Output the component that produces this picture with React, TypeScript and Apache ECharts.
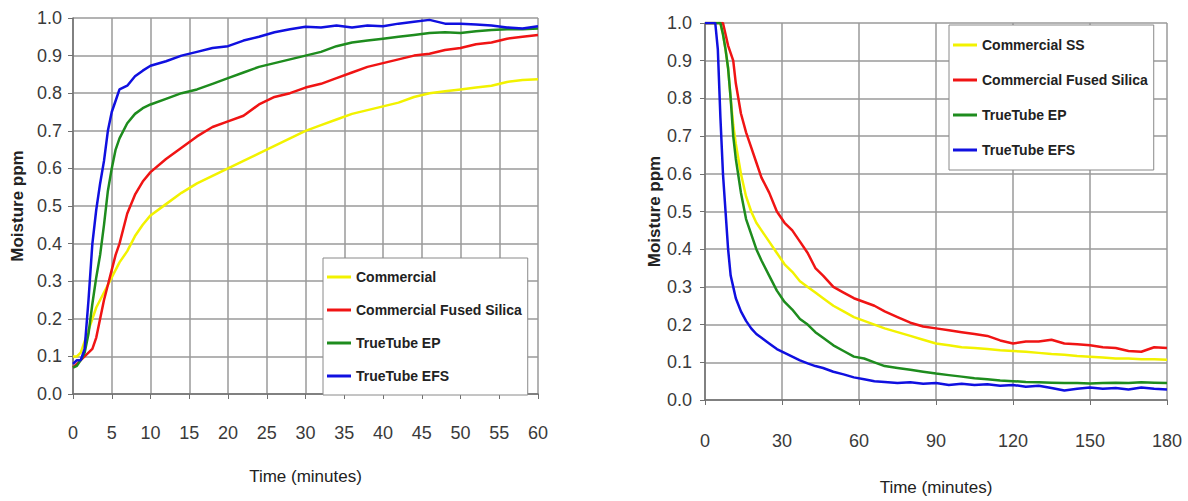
import React, { useEffect, useRef } from "react";
import * as echarts from "echarts";

// ---------- Left chart (adsorption, 0-60 min) ----------
const leftTime = [0, 0.5, 1, 1.5, 2, 2.5, 3, 3.5, 4, 4.5, 5, 5.5, 6, 7, 8, 9, 10, 12, 14, 16, 18, 20, 22, 24, 26, 28, 30, 32, 34, 36, 38, 40, 42, 44, 46, 48, 50, 52, 54, 56, 58, 60];
const leftCommercial = [0.1, 0.1, 0.11, 0.14, 0.17, 0.2, 0.23, 0.25, 0.27, 0.29, 0.31, 0.33, 0.35, 0.38, 0.42, 0.45, 0.475, 0.505, 0.535, 0.56, 0.58, 0.6, 0.62, 0.64, 0.66, 0.68, 0.7, 0.715, 0.73, 0.745, 0.755, 0.765, 0.775, 0.79, 0.8, 0.805, 0.81, 0.815, 0.82, 0.83, 0.835, 0.837];
const leftFusedSilica = [0.07, 0.08, 0.09, 0.1, 0.11, 0.12, 0.15, 0.2, 0.25, 0.29, 0.33, 0.37, 0.4, 0.48, 0.53, 0.565, 0.59, 0.625, 0.655, 0.685, 0.71, 0.725, 0.74, 0.77, 0.79, 0.8, 0.815, 0.825, 0.84, 0.855, 0.87, 0.88, 0.89, 0.9, 0.905, 0.915, 0.92, 0.93, 0.935, 0.945, 0.95, 0.955];
const leftTrueTubeEP = [0.07, 0.075, 0.09, 0.11, 0.16, 0.24, 0.31, 0.37, 0.45, 0.54, 0.6, 0.65, 0.68, 0.72, 0.745, 0.76, 0.77, 0.785, 0.8, 0.81, 0.825, 0.84, 0.855, 0.87, 0.88, 0.89, 0.9, 0.91, 0.925, 0.935, 0.94, 0.945, 0.95, 0.955, 0.96, 0.962, 0.96, 0.965, 0.968, 0.97, 0.97, 0.972];
const leftTrueTubeEFS = [0.08, 0.09, 0.09, 0.12, 0.25, 0.4, 0.49, 0.56, 0.62, 0.7, 0.75, 0.78, 0.81, 0.82, 0.845, 0.86, 0.873, 0.885, 0.9, 0.91, 0.92, 0.925, 0.94, 0.95, 0.962, 0.97, 0.977, 0.975, 0.98, 0.975, 0.98, 0.978, 0.985, 0.99, 0.995, 0.985, 0.985, 0.983, 0.98, 0.975, 0.972, 0.978];
const leftNames = ["Commercial", "Commercial Fused Silica", "TrueTube EP", "TrueTube EFS"];

// ---------- Right chart (dry-down, 0-180 min) ----------
const rightTime = [0, 2, 4, 5, 6, 7, 8, 9, 10, 11, 12, 14, 16, 18, 20, 22, 25, 28, 31, 34, 37, 40, 43, 46, 50, 54, 58, 62, 66, 70, 75, 80, 85, 90, 95, 100, 105, 110, 115, 120, 125, 130, 135, 140, 145, 150, 155, 160, 165, 170, 175, 180];
const rightCommercialSS = [1, 1, 1, 1, 1, 0.97, 0.93, 0.88, 0.8, 0.73, 0.68, 0.6, 0.54, 0.5, 0.47, 0.45, 0.42, 0.39, 0.36, 0.34, 0.315, 0.3, 0.285, 0.27, 0.25, 0.235, 0.22, 0.21, 0.2, 0.19, 0.18, 0.17, 0.16, 0.15, 0.145, 0.14, 0.138, 0.135, 0.132, 0.13, 0.128, 0.125, 0.122, 0.12, 0.117, 0.115, 0.113, 0.11, 0.11, 0.108, 0.108, 0.107];
const rightFusedSilica = [1, 1, 1, 1, 1, 1, 0.97, 0.94, 0.92, 0.9, 0.84, 0.76, 0.71, 0.67, 0.63, 0.59, 0.55, 0.5, 0.47, 0.45, 0.42, 0.39, 0.35, 0.33, 0.3, 0.285, 0.27, 0.26, 0.25, 0.235, 0.22, 0.205, 0.195, 0.19, 0.185, 0.18, 0.175, 0.17, 0.158, 0.15, 0.155, 0.155, 0.16, 0.15, 0.148, 0.145, 0.14, 0.138, 0.13, 0.128, 0.14, 0.138];
const rightTrueTubeEP = [1, 1, 1, 1, 1, 0.97, 0.93, 0.88, 0.8, 0.7, 0.64, 0.55, 0.48, 0.44, 0.4, 0.37, 0.33, 0.29, 0.26, 0.24, 0.215, 0.2, 0.18, 0.165, 0.145, 0.13, 0.115, 0.11, 0.1, 0.09, 0.085, 0.08, 0.075, 0.07, 0.066, 0.062, 0.058, 0.055, 0.052, 0.05, 0.048, 0.047, 0.046, 0.045, 0.045, 0.044, 0.045, 0.046, 0.045, 0.047, 0.046, 0.045];
const rightTrueTubeEFS = [1, 1, 1, 0.93, 0.75, 0.6, 0.5, 0.4, 0.33, 0.3, 0.27, 0.235, 0.21, 0.19, 0.175, 0.165, 0.15, 0.135, 0.125, 0.115, 0.105, 0.097, 0.09, 0.085, 0.075, 0.068, 0.06, 0.055, 0.05, 0.048, 0.045, 0.047, 0.043, 0.045, 0.04, 0.043, 0.04, 0.042, 0.038, 0.04, 0.035, 0.038, 0.032, 0.025, 0.03, 0.033, 0.03, 0.032, 0.028, 0.033, 0.03, 0.028];
const rightNames = ["Commercial SS", "Commercial Fused Silica", "TrueTube EP", "TrueTube EFS"];

const colors = ["#f2f200", "#f01414", "#1e8c1e", "#1010e0"];

const SANS = "'Liberation Sans', Arial, sans-serif";

function pairs(t: number[], v: number[]) {
  return t.map((x, i) => [x, v[i]]);
}

function axisCommon() {
  return {
    axisLine: { show: true, lineStyle: { color: "#707070", width: 1.5 } },
    axisTick: { show: true, inside: false, length: 5, lineStyle: { color: "#707070" } },
    splitLine: { show: true, lineStyle: { color: "#9a9a9a", width: 1.5 } },
  };
}

export default function App() {
  const ref = useRef<HTMLDivElement>(null);
  useEffect(() => {
    document.body.style.margin = "0";
    const chart = echarts.init(ref.current!, undefined, { renderer: "svg" });
    const labelStyle = { color: "#3a3a3a", fontFamily: SANS, fontSize: 18 };
    const nameStyle = { color: "#222", fontFamily: SANS, fontSize: 17, fontWeight: "bold" as const };
    const xNameStyle = { color: "#222", fontFamily: SANS, fontSize: 17 };
    const leftSeries = [leftCommercial, leftFusedSilica, leftTrueTubeEP, leftTrueTubeEFS];
    const rightSeries = [rightCommercialSS, rightFusedSilica, rightTrueTubeEP, rightTrueTubeEFS];
    const series: any[] = [];
    leftSeries.forEach((v, i) =>
      series.push({
        type: "line",
        name: leftNames[i],
        xAxisIndex: 0,
        yAxisIndex: 0,
        data: pairs(leftTime, v),
        symbol: "none",
        lineStyle: { color: colors[i], width: 2.5 },
        itemStyle: { color: colors[i] },
      })
    );
    rightSeries.forEach((v, i) =>
      series.push({
        type: "line",
        name: rightNames[i],
        xAxisIndex: 1,
        yAxisIndex: 1,
        data: pairs(rightTime, v),
        symbol: "none",
        lineStyle: { color: colors[i], width: 2.5 },
        itemStyle: { color: colors[i] },
      })
    );
    const legendText = { color: "#222", fontFamily: SANS, fontSize: 14, fontWeight: "bold" as const, lineHeight: 16 };
    chart.setOption({
      animation: false,
      backgroundColor: "#ffffff",
      grid: [
        { left: 73, top: 18, width: 465, height: 376, containLabel: false, outerBoundsMode: "none" },
        { left: 705, top: 23, width: 462, height: 377, containLabel: false, outerBoundsMode: "none" },
      ],
      xAxis: [
        {
          type: "value", gridIndex: 0, min: 0, max: 60, interval: 5,
          ...axisCommon(),
          axisLabel: { ...labelStyle, margin: 30 },
          name: "Time (minutes)", nameLocation: "middle", nameGap: 74, nameTextStyle: xNameStyle,
        },
        {
          type: "value", gridIndex: 1, min: 0, max: 180, interval: 30,
          ...axisCommon(),
          axisLabel: { ...labelStyle, margin: 32 },
          name: "Time (minutes)", nameLocation: "middle", nameGap: 79, nameTextStyle: xNameStyle,
        },
      ],
      yAxis: [
        {
          type: "value", gridIndex: 0, min: 0, max: 1, interval: 0.1,
          ...axisCommon(),
          axisLabel: { ...labelStyle, margin: 11, formatter: (v: number) => v.toFixed(1) },
          name: "Moisture ppm", nameLocation: "middle", nameGap: 47, nameTextStyle: nameStyle,
        },
        {
          type: "value", gridIndex: 1, min: 0, max: 1, interval: 0.1,
          ...axisCommon(),
          axisLabel: { ...labelStyle, margin: 13, formatter: (v: number) => v.toFixed(1) },
          name: "Moisture ppm", nameLocation: "middle", nameGap: 42, nameTextStyle: nameStyle,
        },
      ],
      legend: [
        {
          data: leftNames, orient: "vertical", left: 323, top: 258, icon: "rect",
          padding: [11, 6, 11, 4], itemGap: 17, itemWidth: 24, itemHeight: 3,
          backgroundColor: "#ffffff", borderColor: "#8a8a8a", borderWidth: 1,
          textStyle: legendText, selectedMode: false,
        },
        {
          data: rightNames, orient: "vertical", left: 949, top: 25, icon: "rect",
          padding: [12, 6, 12, 4], itemGap: 19, itemWidth: 24, itemHeight: 3,
          backgroundColor: "#ffffff", borderColor: "#8a8a8a", borderWidth: 1,
          textStyle: legendText, selectedMode: false,
        },
      ],
      series,
    });
    return () => chart.dispose();
  }, []);
  return <div ref={ref} style={{ width: 1188, height: 501 }} />;
}
